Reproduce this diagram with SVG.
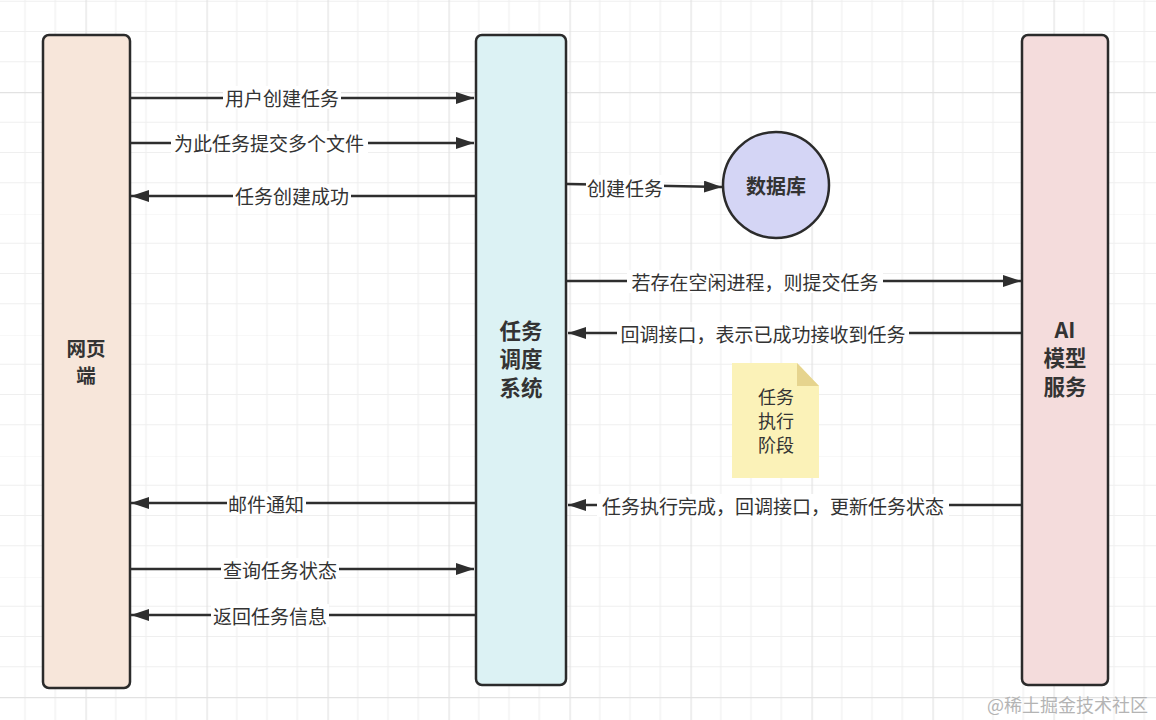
<svg xmlns="http://www.w3.org/2000/svg" width="1156" height="720" viewBox="0 0 1156 720">
<defs>
<pattern id="grid" patternUnits="userSpaceOnUse" x="85.5" y="92" width="121" height="121">
<g stroke="#efefef" stroke-width="1.2" fill="none">
<path d="M30.25,0V121M60.5,0V121M90.75,0V121M0,30.25H121M0,60.5H121M0,90.75H121"/>
</g>
<path d="M0.5,0V121M0,0.5H121" stroke="#e2e2e2" stroke-width="1.4" fill="none"/>
</pattern>
<marker id="arr" markerUnits="userSpaceOnUse" markerWidth="18" markerHeight="12" refX="18" refY="6" orient="auto">
<path d="M0,0 L18,6 L0,12 z" fill="#2e2e2e"/>
</marker>
<style>
.box{stroke:#2b2b2b;stroke-width:2.5}
.title{font-family:"Noto Sans CJK SC","Noto Sans",sans-serif;font-weight:bold;fill:#333;text-anchor:middle}
.edge{stroke:#2e2e2e;stroke-width:2.6;fill:none;marker-end:url(#arr)}
.lbg{fill:#ffffff}
.lbl{font-family:"Noto Sans CJK SC","Noto Sans",sans-serif;font-size:19px;fill:#333;text-anchor:middle;dominant-baseline:central}
.note{font-family:"Noto Sans CJK SC","Noto Sans",sans-serif;font-size:18px;fill:#333;text-anchor:middle}
</style>
</defs>
<rect width="1156" height="720" fill="#ffffff"/>
<rect width="1156" height="720" fill="url(#grid)"/>

<g id="node-web">
<rect class="box" x="43" y="35" width="87" height="653" rx="6" fill="#f7e6da"/>
<text class="title" font-size="19.5"><tspan x="86" y="356">网页</tspan><tspan x="86" dy="27">端</tspan></text>
</g>
<g id="node-scheduler">
<rect class="box" x="476" y="35" width="90" height="650" rx="6" fill="#dcf2f4"/>
<text class="title" font-size="21.5"><tspan x="521" y="338.5">任务</tspan><tspan x="521" dy="28.5">调度</tspan><tspan x="521" dy="28.5">系统</tspan></text>
</g>
<g id="node-ai">
<rect class="box" x="1022" y="35" width="86" height="650" rx="6" fill="#f4dcdc"/>
<text class="title" font-size="21.5"><tspan x="1065" y="337.5">AI</tspan><tspan x="1065" dy="28.5">模型</tspan><tspan x="1065" dy="28.5">服务</tspan></text>
</g>
<g id="node-db">
<circle cx="776" cy="185" r="53" fill="#d4d5f5" stroke="#2b2b2b" stroke-width="2.5"/>
<text class="title" font-size="20" x="776" y="185" dominant-baseline="central">数据库</text>
</g>
<g id="node-note">
<path d="M732,363 H797 L819,386 V478 H732 Z" fill="#fbf2b8"/>
<path d="M797,363 V386 H819 Z" fill="#e6d48e"/>
<text class="note"><tspan x="776" y="403.5">任务</tspan><tspan x="776" dy="24">执行</tspan><tspan x="776" dy="24">阶段</tspan></text>
</g>

<g id="connectors">
<line class="edge" x1="131" y1="98" x2="474" y2="98"/>
<rect class="lbg" x="223" y="86" width="118" height="23"/>
<text class="lbl" x="282" y="97">用户创建任务</text>

<line class="edge" x1="131" y1="143" x2="474" y2="143"/>
<rect class="lbg" x="171" y="131" width="197" height="23"/>
<text class="lbl" x="269" y="142">为此任务提交多个文件</text>

<line class="edge" x1="475" y1="196" x2="131" y2="196"/>
<rect class="lbg" x="233" y="184" width="118" height="23"/>
<text class="lbl" x="292" y="195">任务创建成功</text>

<path class="edge" d="M567,184 L722,187"/>
<rect class="lbg" x="586" y="175" width="78" height="23"/>
<text class="lbl" x="625" y="187">创建任务</text>

<line class="edge" x1="567" y1="281" x2="1021" y2="281"/>
<rect class="lbg" x="627" y="270" width="256" height="23"/>
<text class="lbl" x="755" y="281">若存在空闲进程，则提交任务</text>

<line class="edge" x1="1021" y1="333" x2="568" y2="333"/>
<rect class="lbg" x="617" y="322" width="292" height="23"/>
<text class="lbl" x="763" y="333">回调接口，表示已成功接收到任务</text>

<line class="edge" x1="1021" y1="505" x2="568" y2="505"/>
<rect class="lbg" x="597" y="494" width="352" height="23"/>
<text class="lbl" x="773" y="505">任务执行完成，回调接口，更新任务状态</text>

<line class="edge" x1="475" y1="503" x2="131" y2="503"/>
<rect class="lbg" x="227" y="492" width="79" height="23"/>
<text class="lbl" x="266" y="503">邮件通知</text>

<line class="edge" x1="131" y1="569" x2="474" y2="569"/>
<rect class="lbg" x="221" y="558" width="118" height="23"/>
<text class="lbl" x="280" y="569">查询任务状态</text>

<line class="edge" x1="475" y1="615" x2="131" y2="615"/>
<rect class="lbg" x="211" y="604" width="118" height="23"/>
<text class="lbl" x="270" y="615">返回任务信息</text>
</g>

<text x="1148" y="704" font-family="'Noto Sans CJK SC',sans-serif" font-size="18" fill="#b4b4b4" text-anchor="end" dominant-baseline="central">@稀土掘金技术社区</text>
</svg>
